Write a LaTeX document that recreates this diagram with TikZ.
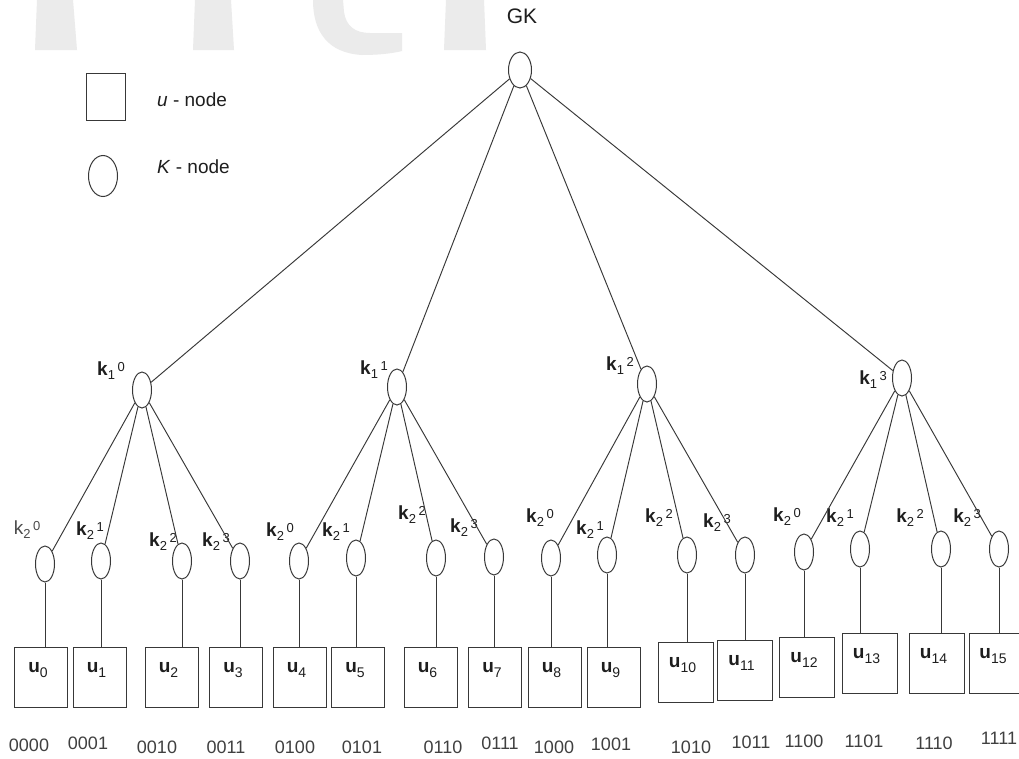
\documentclass[tikz,border=0pt]{standalone}
\usepackage{fontspec}
\setmainfont{Liberation Sans}
\usetikzlibrary{shapes.geometric}
\definecolor{ln}{HTML}{383838}
\definecolor{wm}{HTML}{EBEBEB}
\definecolor{tx}{HTML}{1E1E1E}
\newcommand\klab[3]{{#1k}\raisebox{-4pt}{\fontsize{13}{13}\selectfont #2}\hspace{2.5pt}\raisebox{4.5pt}{\fontsize{13}{13}\selectfont #3}}
\newcommand\ulab[1]{\textbf{u}\raisebox{-4.5pt}{\fontsize{14}{14}\selectfont #1}}
\tikzset{
  knode/.style={draw=ln, line width=1pt, ellipse, minimum width=19pt, minimum height=36pt, inner sep=0pt},
  ubox/.style={draw=ln, line width=1pt, rectangle, minimum width=53pt, minimum height=60pt, inner sep=0pt},
  edge/.style={draw=ln, line width=0.95pt},
  lab/.style={text=tx, font=\fontsize{19}{22}\selectfont, inner sep=0pt},
  bin/.style={text=tx!85, font=\fontsize{18}{20}\selectfont, inner sep=0pt},
  wmark/.style={fill=wm, draw=none}
}
\begin{document}
\begin{tikzpicture}[x=1pt,y=-1pt]
\useasboundingbox (0,0) rectangle (1019,758);
\fill[white] (0,0) rectangle (1019,758);
% watermark fragments
\fill[wmark] (37,0) -- (73,0) -- (77,50) -- (35,50) -- cycle;
\fill[wmark] (195,0) -- (231,0) -- (234,50) -- (193,50) -- cycle;
\fill[wmark] (313,0) -- (343,0) -- (344,12) .. controls (346,26) and (355,33) .. (370,33) -- (402,33) -- (402,51) .. controls (390,54) and (375,55) .. (362,55) .. controls (328,53) and (313,32) .. (313,0) -- cycle;
\fill[wmark] (446,0) -- (484,0) -- (486,50) -- (444,50) -- cycle;

% legend
\node[ubox, minimum width=39pt, minimum height=47pt] (lgu) at (105.5,96.5) {};
\node[lab, anchor=west] (lgut) at (157,100) {\textit{u} - node};
\node[knode, minimum width=29pt, minimum height=41pt] (lgk) at (103,176) {};
\node[lab, anchor=west] (lgkt) at (157,167) {\textit{K} - node};

% root
\node[knode, minimum width=23pt] (gk) at (520,70) {};
\node[lab, font=\fontsize{21}{24}\selectfont] (gkt) at (522,16) {GK};

% level 1
\node[knode] (a0) at (142,390) {};
\node[knode] (a1) at (397,387) {};
\node[knode] (a2) at (647,384) {};
\node[knode] (a3) at (902,378) {};
\node[lab] (a0t) at (111,371) {\klab{\bfseries}{1}{0}};
\node[lab] (a1t) at (374,370) {\klab{\bfseries}{1}{1}};
\node[lab] (a2t) at (620,366) {\klab{\bfseries}{1}{2}};
\node[lab] (a3t) at (873,380) {\klab{\bfseries}{1}{3}};
\foreach \i in {0,...,3} { \draw[edge] (gk) -- (a\i); }

% level 2
\foreach \n/\x/\y in {0/45/564,1/101/561,2/182/561,3/240/561,4/299/561,5/356/558,6/436/558,7/494/557,8/551/558,9/607/555,10/687/555,11/745/555,12/804/552,13/860/549,14/941/549,15/999/549}
  { \node[knode] (b\n) at (\x,\y) {}; }
\node[lab, text=tx!80] (b0t) at (27,530) {\klab{}{2}{0}};
\foreach \n/\x/\y/\s in {1/90/531/1,2/163/542/2,3/216/542/3,4/280/532/0,5/336/532/1,6/412/515/2,7/464/528/3,8/540/518/0,9/590/530/1,10/659/518/2,11/717/523/3,12/787/517/0,13/840/518/1,14/910/518/2,15/967/518/3}
  { \node[lab] (b\n t) at (\x,\y) {\klab{\bfseries}{2}{\s}}; }
\foreach \p in {0,1,2,3} {
  \pgfmathtruncatemacro{\c}{4*\p}
  \pgfmathtruncatemacro{\d}{4*\p+3}
  \foreach \q in {\c,...,\d} { \draw[edge] (a\p) -- (b\q); }
}

% u nodes
\foreach \n/\x/\y/\w in {0/41/677/53,1/99.5/677/53,2/171.5/677/53,3/236/677/53,4/299.5/677/53,5/358/677/53,6/430.5/677/53,7/495/677/53,8/554.5/677/53,9/613.5/677/53,10/685.5/672/55,11/744.5/670/55,12/807/667/55,13/869.5/663/55,14/936.5/663/55,15/996/663/53}
  { \node[ubox, minimum width=\w pt] (u\n) at (\x,\y) {};
    \node[lab] (u\n t) at ([xshift=-3pt,yshift=7pt]u\n.center) {\ulab{\n}};
    \draw[edge] (b\n.south) -- (b\n.south |- u\n.north); }

% binary codes
\foreach \n/\x/\y/\t in {0/29/745/0000,1/88/743/0001,2/157/747/0010,3/226/747/0011,4/295/747/0100,5/362/747/0101,6/443/747/0110,7/500/743/0111,8/554/747/1000,9/611/744/1001,10/691/747/1010,11/751/742/1011,12/804/741/1100,13/864/741/1101,14/934/743/1110,15/999/738/1111}
  { \node[bin] (c\n) at (\x,\y) {\t}; }
\end{tikzpicture}
\end{document}
